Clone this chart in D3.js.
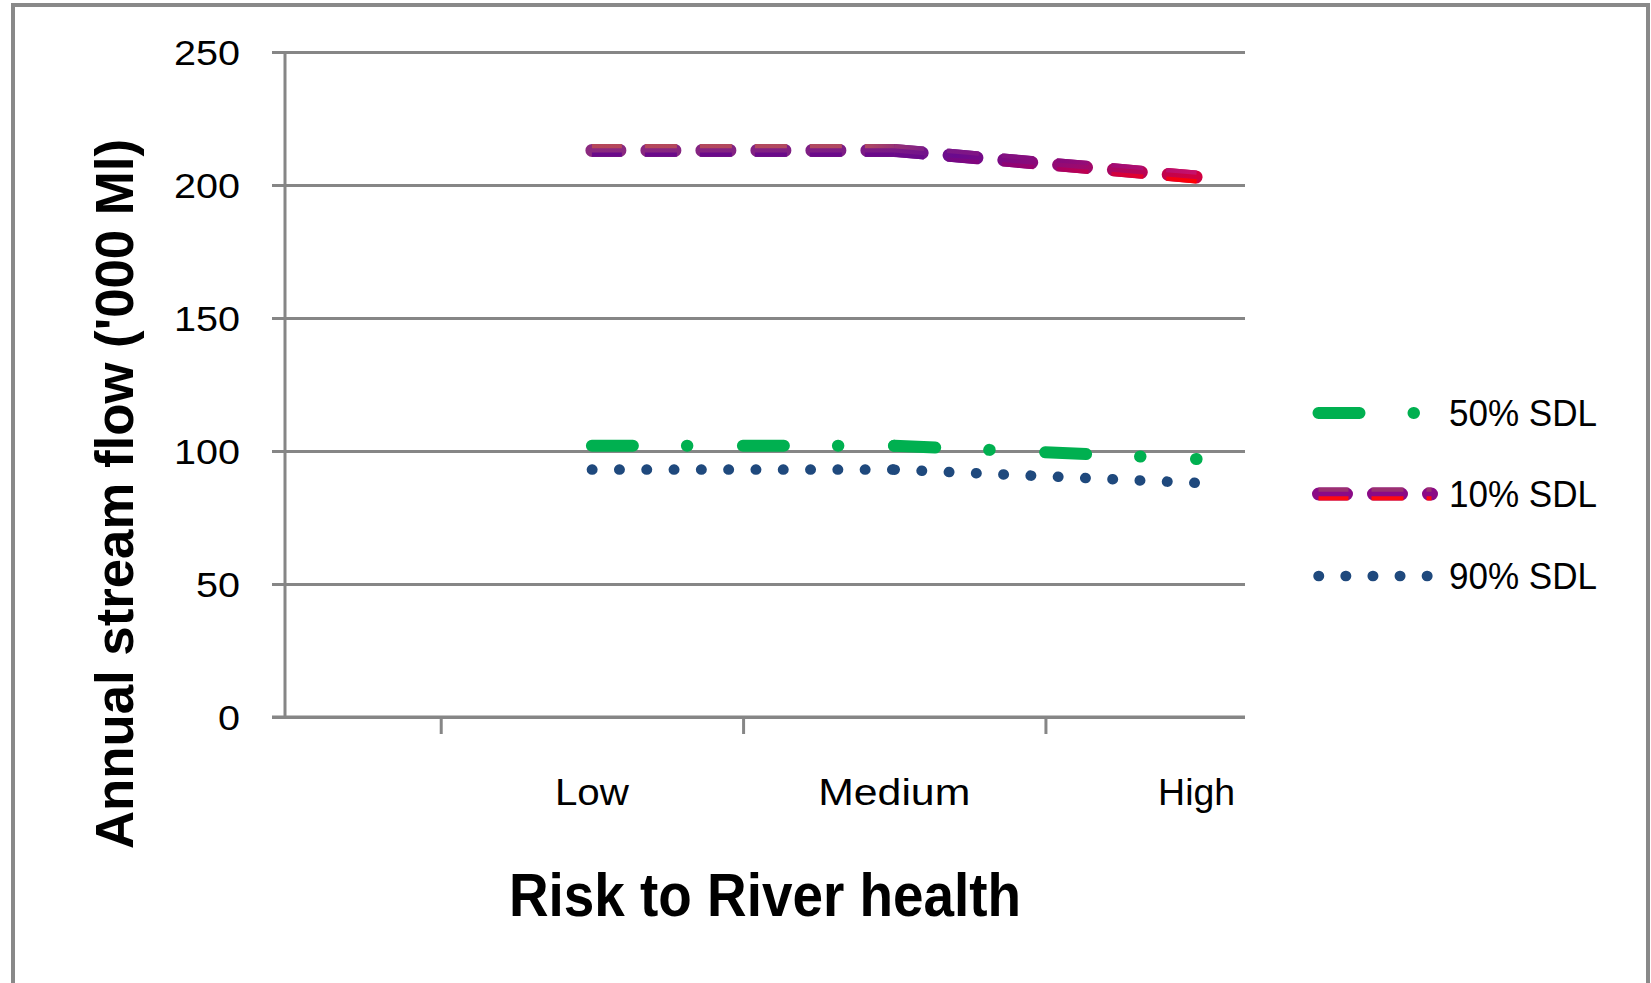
<!DOCTYPE html>
<html>
<head>
<meta charset="utf-8">
<script src="https://cdn.jsdelivr.net/npm/d3@7"></script>
<style>
  html, body { margin: 0; padding: 0; background: #fff; }
  svg { display: block; }
  text { font-family: "Liberation Sans", "DejaVu Sans", sans-serif; fill: #000; }
</style>
</head>
<body>
<svg id="chart" width="1651" height="983"></svg>
<script>
// Risk levels on the category axis (0 = Low, 1 = Medium, 2 = High)
const riskLabels = ["Low", "Medium", "High"];
const riskPos = [0, 1, 2];

// Annual stream flow ('000 Ml) for each SDL scenario
const sdl50 = [102, 102, 97];
const sdl10 = [213, 213, 203];
const sdl90 = [93, 93, 88];

const yTicks = [0, 50, 100, 150, 200, 250];
const legendLabels = ["50% SDL", "10% SDL", "90% SDL"];

const svg = d3.select("#chart");

// Outer frame
svg.append("rect")
  .attr("x", 13).attr("y", 5)
  .attr("width", 1635).attr("height", 1000)
  .attr("fill", "none")
  .attr("stroke", "#898989")
  .attr("stroke-width", 4);

const plot = { left: 285, right: 1245, top: 52, bottom: 717 };

const x = d3.scaleLinear().domain([-1.015, 2.16]).range([plot.left, plot.right]);
const y = d3.scaleLinear().domain([0, 250]).range([plot.bottom, plot.top]);

const gridColor = "#868686";

// Horizontal gridlines with left tick marks
const yAxis = d3.axisLeft(y).tickValues(yTicks).tickSize(plot.right - plot.left + 13).tickFormat("");
const gy = svg.append("g").attr("transform", `translate(${plot.right},0)`).call(yAxis);
gy.select(".domain").remove();
gy.selectAll(".tick line").attr("stroke", gridColor).attr("stroke-width", 3);

// Y axis line
svg.append("line")
  .attr("x1", plot.left).attr("x2", plot.left)
  .attr("y1", plot.top).attr("y2", plot.bottom)
  .attr("stroke", gridColor).attr("stroke-width", 3);

// Y tick labels
svg.append("g").selectAll("text").data(yTicks).join("text")
  .attr("x", 240)
  .attr("y", d => y(d))
  .attr("dy", "0.36em")
  .attr("text-anchor", "end")
  .attr("font-size", 35)
  .attr("textLength", d => String(d).length * 22)
  .attr("lengthAdjust", "spacingAndGlyphs")
  .text(d => d);

// X axis with tick marks between categories
const xAxis = d3.axisBottom(x).tickValues([-0.5, 0.5, 1.5]).tickSize(17).tickSizeOuter(0).tickFormat("");
const gx = svg.append("g").attr("transform", `translate(0,${plot.bottom})`).call(xAxis);
gx.select(".domain").remove();
gx.selectAll(".tick line").attr("stroke", gridColor).attr("stroke-width", 3);
svg.append("line")
  .attr("x1", plot.left - 13).attr("x2", plot.right)
  .attr("y1", plot.bottom).attr("y2", plot.bottom)
  .attr("stroke", gridColor).attr("stroke-width", 3);

// Category labels
const labelWidths = { "Low": 74, "Medium": 152, "High": 77 };
svg.append("g").selectAll("text").data(riskLabels).join("text")
  .attr("x", (d, i) => x(i))
  .attr("y", 805)
  .attr("text-anchor", "middle")
  .attr("font-size", 36)
  .attr("textLength", d => labelWidths[d])
  .attr("lengthAdjust", "spacingAndGlyphs")
  .text(d => d);

// Axis titles
svg.append("text")
  .attr("x", 765).attr("y", 916)
  .attr("text-anchor", "middle")
  .attr("font-size", 62)
  .attr("font-weight", "bold")
  .attr("textLength", 512)
  .attr("lengthAdjust", "spacingAndGlyphs")
  .text("Risk to River health");

svg.append("text")
  .attr("transform", "translate(133,494) rotate(-90)")
  .attr("text-anchor", "middle")
  .attr("font-size", 54)
  .attr("font-weight", "bold")
  .attr("textLength", 710)
  .attr("lengthAdjust", "spacingAndGlyphs")
  .text("Annual stream flow ('000 Ml)");

// Gradients for the 10% SDL line (three bands, shading purple to red)
const defs = svg.append("defs");
function grad(id, stops, x1, x2) {
  const g = defs.append("linearGradient").attr("id", id)
    .attr("gradientUnits", "userSpaceOnUse")
    .attr("x1", x1).attr("x2", x2).attr("y1", 0).attr("y2", 0);
  stops.forEach(([o, c]) => g.append("stop").attr("offset", o).attr("stop-color", c));
}
const gx1 = x(0), gx2 = x(2);
grad("g10top", [[0, "#b5475a"], [0.45, "#b04a62"], [0.56, "#7a1a8a"], [0.78, "#8a0a7a"], [1, "#c8106a"]], gx1, gx2);
grad("g10mid", [[0, "#8b2a7f"], [0.5, "#7a1a86"], [0.6, "#6a0a8e"], [0.8, "#9a0a70"], [1, "#d00040"]], gx1, gx2);
grad("g10bot", [[0, "#6a0a8a"], [0.55, "#6a0a8a"], [0.75, "#a0006a"], [0.9, "#e00030"], [1, "#ff0000"]], gx1, gx2);

const line = d3.line().x(d => x(d[0])).y(d => y(d[1]));

const series = [
  { name: "50% SDL", values: sdl50 },
  { name: "10% SDL", values: sdl10 },
  { name: "90% SDL", values: sdl90 }
];

// Stroke layers per series: base stroke plus optional shaded bands
const styles = {
  "50% SDL": [{ stroke: "#00b050", width: 12, dash: "41,54,0.5,55.5", cap: "round", dy: 0, off: 0 }],
  "10% SDL": [
    { stroke: "url(#g10mid)", width: 13, dash: "28,27", cap: "round", dy: 0, off: 0 },
    { stroke: "url(#g10top)", width: 4.3, dash: "32,23", cap: "butt", dy: -4.3, off: 2 },
    { stroke: "url(#g10bot)", width: 4.3, dash: "32,23", cap: "butt", dy: 4.3, off: 2 }
  ],
  "90% SDL": [{ stroke: "#1f497d", width: 10.5, dash: "0.5,26.8", cap: "round", dy: 0, off: 0 }]
};

// Series lines: each segment between data points restarts the dash pattern
const gLines = svg.append("g");
series.forEach(s => {
  const pts = riskPos.map((r, i) => [r, s.values[i]]);
  const segs = d3.pairs(pts);
  styles[s.name].forEach(st => {
    gLines.append("g").selectAll("path").data(segs).join("path")
      .attr("d", d => line(d))
      .attr("transform", `translate(0,${st.dy})`)
      .attr("fill", "none")
      .attr("stroke", st.stroke)
      .attr("stroke-width", st.width)
      .attr("stroke-linecap", st.cap)
      .attr("stroke-dasharray", st.dash)
      .attr("stroke-dashoffset", st.off);
  });
});

// Legend
const legendRows = [413, 494, 576];
const legendStyles = {
  "50% SDL": [{ stroke: "#00b050", width: 12, dash: "41,54,0.5,55.5", cap: "round", dy: 0, off: 0 }],
  "10% SDL": [
    { stroke: "#8b0a86", width: 13, dash: "28,27", cap: "round", dy: 0, off: 0 },
    { stroke: "#9b3070", width: 4.3, dash: "32,23", cap: "butt", dy: -4.3, off: 2 },
    { stroke: "#ff0a10", width: 4.3, dash: "32,23", cap: "butt", dy: 4.3, off: 2 }
  ],
  "90% SDL": [{ stroke: "#1f497d", width: 10.5, dash: "0.5,26.6", cap: "round", dy: 0, off: 0 }]
};
const gLeg = svg.append("g");
legendLabels.forEach((name, i) => {
  const cy = legendRows[i];
  legendStyles[name].forEach(st => {
    gLeg.append("line")
      .attr("x1", 1318.5).attr("x2", 1431.5)
      .attr("y1", cy + st.dy).attr("y2", cy + st.dy)
      .attr("stroke", st.stroke)
      .attr("stroke-width", st.width)
      .attr("stroke-linecap", st.cap)
      .attr("stroke-dasharray", st.dash)
      .attr("stroke-dashoffset", st.off);
  });
  gLeg.append("text")
    .attr("x", 1449)
    .attr("y", cy + 13)
    .attr("font-size", 37)
    .attr("textLength", 148)
    .attr("lengthAdjust", "spacingAndGlyphs")
    .text(name);
});
</script>
</body>
</html>
